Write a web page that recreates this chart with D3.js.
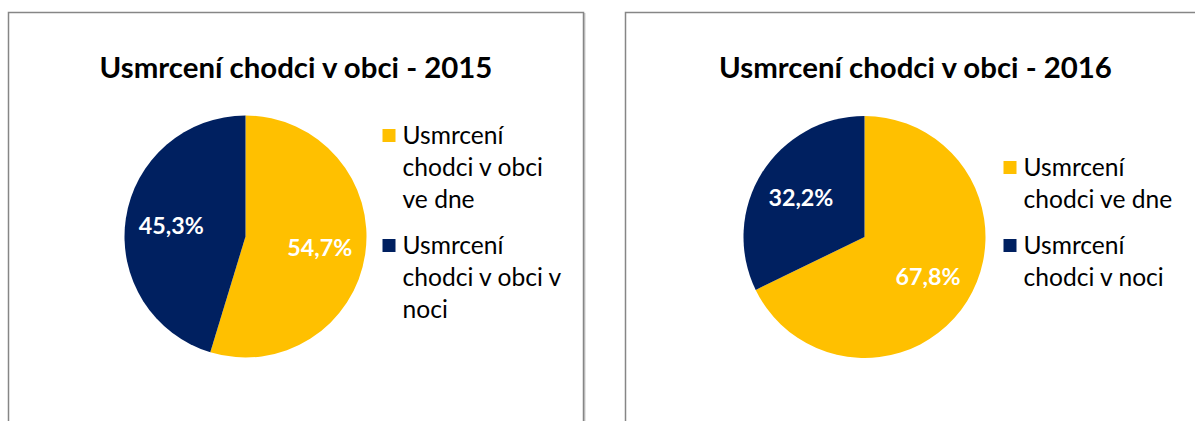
<!DOCTYPE html>
<html><head><meta charset="utf-8">
<script src="https://cdn.jsdelivr.net/npm/d3@7"></script>
<style>body{margin:0;background:#fff}svg{display:block}</style>
</head><body>
<svg id="c" width="1195" height="421"></svg>
<script>
// ---- data ----
const titles = ["Usmrcení chodci v obci - 2015", "Usmrcení chodci v obci - 2016"];
const categories2015 = ["Usmrcení chodci v obci ve dne", "Usmrcení chodci v obci v noci"];
const categories2016 = ["Usmrcení chodci ve dne", "Usmrcení chodci v noci"];
const values2015 = [54.7, 45.3];
const values2016 = [67.8, 32.2];
const colors = ["#FFC000", "#002060"];

// ---- layout ----
const FONT = "Lato, 'Open Sans', sans-serif";
const svg = d3.select("#c");
const panels = [
  {x: 8.5, y: 12.5, w: 575, h: 440, cats: categories2015, vals: values2015, title: titles[0], cx: 237, cy: 224, lx: 374},
  {x: 625.5, y: 12.5, w: 580, h: 440, cats: categories2016, vals: values2016, title: titles[1], cx: 239, cy: 224.5, lx: 378}
];
const R = 121;

function measure(text, size, weight) {
  const t = svg.append("text").attr("font-family", FONT).attr("font-weight", weight)
    .attr("font-size", size).text(text);
  const w = t.node().getComputedTextLength();
  t.remove();
  return w;
}
function fitSize(text, weight, target) {
  return 100 * target / measure(text, 100, weight);
}
const titleSize = fitSize(titles[0], "bold", 393);
const legendSize = fitSize("Usmrcení", "normal", 101);
const labelSize = fitSize("45,3%", "bold", 65);

function wrap(str, maxW) {
  const words = str.split(" ");
  const lines = [];
  let cur = "";
  words.forEach(w => {
    const test = cur ? cur + " " + w : w;
    if (cur && measure(test, legendSize, "normal") > maxW) { lines.push(cur); cur = w; }
    else cur = test;
  });
  if (cur) lines.push(cur);
  return lines;
}

panels.forEach(p => {
  const g = svg.append("g").attr("transform", `translate(${p.x},${p.y})`);
  // shadow + border
  g.append("rect").attr("x", 1.2).attr("y", 1.2).attr("width", p.w).attr("height", p.h)
    .attr("fill", "none").attr("stroke", "#c8c8c8").attr("stroke-width", 1.5);
  g.append("rect").attr("width", p.w).attr("height", p.h)
    .attr("fill", "#fff").attr("stroke", "#868686").attr("stroke-width", 1.5);

  g.append("text").attr("x", p.w / 2).attr("y", 65.5)
    .attr("text-anchor", "middle").attr("font-family", FONT).attr("font-weight", "bold")
    .attr("font-size", titleSize).attr("fill", "#000").text(p.title);

  const pie = d3.pie().sort(null).value(d => d)(p.vals);
  const arc = d3.arc().innerRadius(0).outerRadius(R);
  const labelArc = d3.arc().innerRadius(R * 0.62).outerRadius(R * 0.62);
  const pg = g.append("g").attr("transform", `translate(${p.cx},${p.cy})`);
  pg.selectAll("path").data(pie).join("path").attr("d", arc).attr("fill", (d, i) => colors[i]);
  pg.selectAll("text").data(pie).join("text")
    .attr("transform", d => `translate(${labelArc.centroid(d)})`)
    .attr("text-anchor", "middle").attr("dy", "0.36em")
    .attr("font-family", FONT).attr("font-weight", "bold").attr("font-size", labelSize)
    .attr("fill", "#fff")
    .text(d => d3.format(".1f")(d.data).replace(".", ",") + "%");

  // legend
  const lineH = 32, gap = 46;
  const wrapped = p.cats.map(c => wrap(c, 165));
  let total = 0;
  wrapped.forEach((ls, i) => { total += (ls.length - 1) * lineH + (i > 0 ? gap : 0); });
  let y = 210 - total / 2;
  const lg = g.append("g");
  wrapped.forEach((ls, i) => {
    if (i > 0) y += gap;
    lg.append("rect").attr("x", p.lx).attr("y", y - 6.5).attr("width", 13).attr("height", 13)
      .attr("fill", colors[i]);
    ls.forEach((l, j) => {
      lg.append("text").attr("x", p.lx + 20).attr("y", y + j * lineH).attr("dy", "0.36em")
        .attr("font-family", FONT).attr("font-size", legendSize).attr("fill", "#000").text(l);
    });
    y += (ls.length - 1) * lineH;
  });
});
</script>
</body></html>
